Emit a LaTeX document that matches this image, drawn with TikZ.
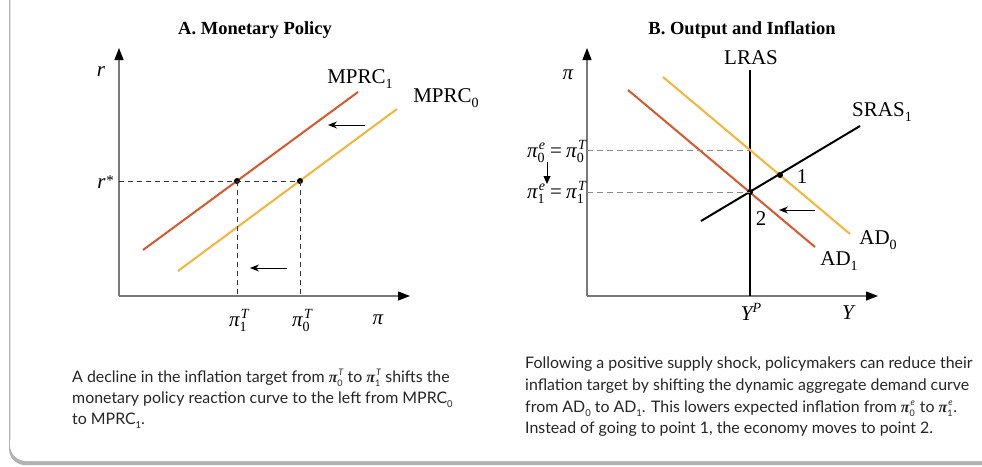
\documentclass[tikz,border=0pt]{standalone}
\usepackage{fontspec}
\setmainfont{Liberation Serif}
\newfontfamily\capfont{Lato}
\usetikzlibrary{arrows.meta}
\definecolor{redc}{HTML}{D9572B}
\definecolor{yelc}{HTML}{F5B538}
\definecolor{axisgray}{HTML}{7A7A7A}
% small lowered digit for captions
\newcommand\lsub[1]{\raisebox{-0.5ex}{\fontsize{9.5}{9.5}\selectfont #1}}
% stacked superscript/subscript: #1 size, #2 sup (italic), #3 sub
\newcommand\stk[3]{\sbox0{\fontsize{#1}{#1}\selectfont\itshape #2}\sbox2{\fontsize{#1}{#1}\selectfont #3}%
  \raisebox{0.85ex}{\rlap{\kern0.06em\usebox0}}\raisebox{-0.5ex}{\rlap{\usebox2}}%
  \hspace{\ifdim\wd0>\wd2 \wd0\else\wd2\fi}\kern0.06em\relax}
\newcommand\pit{{\rmfamily\itshape π}}
\newcommand\pic{{\rmfamily\bfseries\itshape π}}
\newcommand\gsub[1]{\raisebox{-0.45ex}{\fontsize{14}{14}\selectfont #1}}
\begin{document}
\begin{tikzpicture}[x=1pt,y=-1pt,
  axis/.style={draw=axisgray, line width=1.3pt, -{Triangle[length=12pt,width=9pt,color=black]}},
  redline/.style={draw=redc, line width=2pt},
  yelline/.style={draw=yelc, line width=2pt},
  blkline/.style={draw=black, line width=2pt},
  dashA/.style={draw=black!80, line width=0.9pt, dash pattern=on 5pt off 4pt},
  dashB/.style={draw=black!45, line width=0.9pt, dash pattern=on 6pt off 4pt},
  shiftarrow/.style={draw=black, line width=1pt, -{Stealth[length=9pt,width=7pt]}},
  dot/.style={circle, fill=black, inner sep=0pt, minimum size=6pt},
  lab/.style={font=\fontsize{21}{24}\selectfont, inner sep=0pt},
  ttl/.style={font=\bfseries\fontsize{18.5}{22}\selectfont, inner sep=0pt},
  captext/.style={font=\capfont\fontsize{15.9}{21}\selectfont, anchor=base west, inner sep=0pt, text=black!85}
]
\useasboundingbox (0,0) rectangle (982,466);
% card
\fill[black!30, rounded corners=16pt] (9,-40) rectangle (1020,465);
\fill[white, rounded corners=16pt] (10,-40) rectangle (1016,461);
\draw[black!12, line width=1pt] (10,-40) -- (10,440);

% ---------- Panel A ----------
\node[ttl] (ta) at (255,30) {A. Monetary Policy};
\coordinate (Ao) at (119,296);
\coordinate (Ay) at (119,48);
\coordinate (Ax) at (410,296);
\draw[axis] (Ao) -- (Ay);
\draw[axis] (Ao) -- (Ax);
\coordinate (m1a) at (143,250);
\coordinate (m1b) at (358,92);
\coordinate (m0a) at (178,271);
\coordinate (m0b) at (397,109);
\draw[redline] (m1a) -- (m1b);
\draw[yelline] (m0a) -- (m0b);
\coordinate (rs) at (119,181);
\node[dot] (p1) at (237,181) {};
\node[dot] (p0) at (300,181) {};
\coordinate (t1) at (237,296);
\coordinate (t0) at (300,296);
\draw[dashA] (rs) -- (p0.center);
\draw[dashA] (p1.center) -- (t1);
\draw[dashA] (p0.center) -- (t0);
\coordinate (sa1) at (365,125);
\coordinate (sa2) at (328,125);
\draw[shiftarrow] (sa1) -- (sa2);
\coordinate (sb1) at (287,268);
\coordinate (sb2) at (250,268);
\draw[shiftarrow] (sb1) -- (sb2);
\node[lab] (rlab) at (101,72) {\itshape r};
\node[lab, anchor=east] (rstar) at (114,182) {\itshape r\kern0.04em\raisebox{0.3ex}{\fontsize{15}{15}\selectfont\upshape *}};
\node[lab] (mp1) at (360,79) {MPRC\gsub{1}};
\node[lab] (mp0) at (446,98) {MPRC\gsub{0}};
\node[lab] (pt1) at (239,320) {\pit\stk{14}{T}{1}};
\node[lab] (pt0) at (302,320) {\pit\stk{14}{T}{0}};
\node[lab] (pia) at (378,320) {\pit};

% ---------- Panel B ----------
\node[ttl] (tb) at (742,30) {B. Output and Inflation};
\coordinate (Bo) at (587,296);
\coordinate (By) at (587,48);
\coordinate (Bx) at (878,296);
\draw[axis] (Bo) -- (By);
\draw[axis] (Bo) -- (Bx);
\coordinate (la) at (750,70);
\coordinate (lb) at (750,296);
\draw[blkline] (la) -- (lb);
\coordinate (a0a) at (663,77);
\coordinate (a0b) at (850,234);
\coordinate (a1a) at (628,90);
\coordinate (a1b) at (815,247);
\draw[yelline] (a0a) -- (a0b);
\draw[redline] (a1a) -- (a1b);
\coordinate (sra) at (701,221);
\coordinate (srb) at (860,126);
\draw[blkline] (sra) -- (srb);
\coordinate (h0a) at (587,150);
\coordinate (h0b) at (750,150);
\coordinate (h1a) at (587,192);
\node[dot] (q2) at (750,192) {};
\node[dot] (q1) at (780,175) {};
\draw[dashB] (h0a) -- (h0b);
\draw[dashB] (h1a) -- (q2.center);
\coordinate (sc1) at (815,210);
\coordinate (sc2) at (779,210);
\draw[shiftarrow] (sc1) -- (sc2);
\node[lab] (n1) at (802,177) {1};
\node[lab] (n2) at (761,219) {2};
\node[lab] (lras) at (751,58) {LRAS};
\node[lab] (sras) at (882,112) {SRAS\gsub{1}};
\node[lab] (ad0) at (878,240) {AD\gsub{0}};
\node[lab] (ad1) at (839,261) {AD\gsub{1}};
\node[lab] (yp) at (751,312) {\itshape Y\raisebox{0.75ex}{\fontsize{14}{14}\selectfont P}};
\node[lab] (yl) at (848,313) {\itshape Y};
\node[lab] (pib) at (568,75) {\pit};
\node[lab, anchor=east] (e0) at (586,151) {\pit\stk{14}{e}{0}\kern0.2em=\kern0.2em\pit\stk{14}{T}{0}};
\node[lab, anchor=east] (e1) at (586,192) {\pit\stk{14}{e}{1}\kern0.2em=\kern0.2em\pit\stk{14}{T}{1}};
\coordinate (da1) at (547,162);
\coordinate (da2) at (547,184);
\draw[draw=black, line width=0.8pt, -{Triangle[length=8pt,width=7pt]}] (da1) -- (da2);

% ---------- Captions ----------
\node[captext] (ca1) at (72,382) {A decline in the inflation target from \pic\stk{9}{T}{0} to \pic\stk{9}{T}{1} shifts the};
\node[captext] (ca2) at (72,403) {monetary policy reaction curve to the left from MPRC\lsub{0}};
\node[captext] (ca3) at (72,424) {to MPRC\lsub{1}.};
\node[captext] (cb1) at (525,368) {Following a positive supply shock, policymakers can reduce their};
\node[captext] (cb2) at (525,390) {inflation target by shifting the dynamic aggregate demand curve};
\node[captext] (cb3) at (525,412) {from AD\lsub{0} to AD\lsub{1}. This lowers expected inflation from \pic\stk{9}{e}{0} to \pic\stk{9}{e}{1}.};
\node[captext] (cb4) at (525,433) {Instead of going to point 1, the economy moves to point 2.};
\end{tikzpicture}
\end{document}
